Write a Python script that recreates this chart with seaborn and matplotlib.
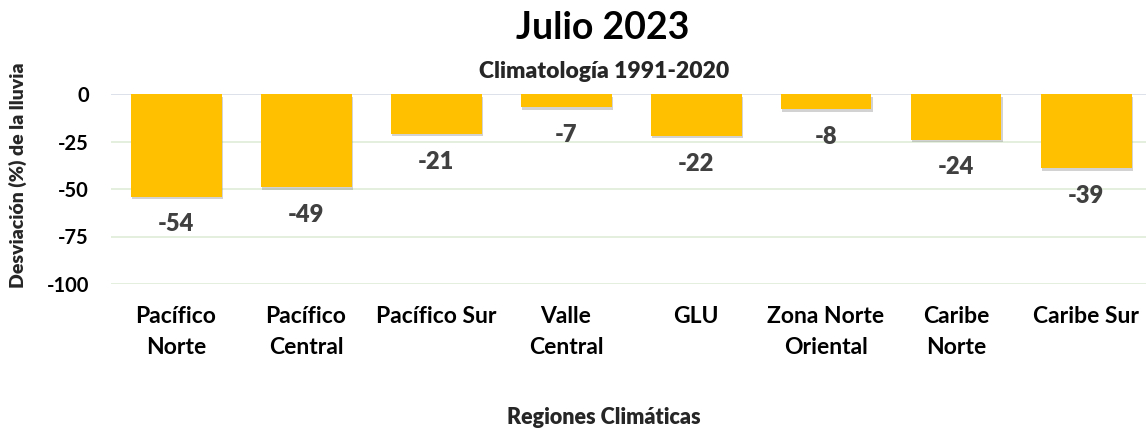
import matplotlib
matplotlib.use("Agg")
import matplotlib.pyplot as plt
import matplotlib.patheffects as pe
import seaborn as sns
import pandas as pd

regiones = ["Pacífico\nNorte", "Pacífico\nCentral", "Pacífico Sur", "Valle\nCentral",
            "GLU", "Zona Norte\nOriental", "Caribe\nNorte", "Caribe Sur"]
desviacion = [-54, -49, -21, -7, -22, -8, -24, -39]
yticks = [0, -25, -50, -75, -100]

sns.set_style("white")
plt.rcParams['font.family'] = ['Lato', 'DejaVu Sans']
plt.rcParams['font.weight'] = 'bold'

df = pd.DataFrame({"region": regiones, "valor": desviacion})

fig = plt.figure(figsize=(11.46, 4.30), dpi=100)
ax = fig.add_axes([111/1146, 1-284/430, 1040/1146, 190/430])

sns.barplot(data=df, x="region", y="valor", color="#FFC000", saturation=1,
            width=0.7, ax=ax, zorder=3)

for p in ax.patches:
    p.set_edgecolor("none")
    p.set_path_effects([pe.SimplePatchShadow(offset=(1.2, -1.8), shadow_rgbFace="#808080", alpha=0.35),
                        pe.Normal()])

for i, v in enumerate(desviacion):
    ax.annotate(f"{v}", xy=(i, v), xytext=(0, -20), textcoords="offset points",
                ha="center", va="center", fontsize=17, fontweight="heavy", color="#404040")

ax.set_ylim(-100, 0)
ax.set_xlim(-0.5, len(regiones) - 0.5)
ax.set_yticks(yticks)
ax.set_yticklabels([str(t) for t in yticks], fontsize=14.5, fontweight="bold", color="black")
ax.tick_params(axis="y", length=0, pad=16)
ax.tick_params(axis="x", length=0, pad=16)
for lab in ax.get_xticklabels():
    lab.set_fontsize(16.5)
    lab.set_fontweight("bold")
    lab.set_linespacing(1.55)
    lab.set_color("black")

for t in yticks:
    ax.axhline(t, color="#D9DEE8" if t == 0 else "#E2EFDA", lw=1.3, zorder=1)

for s in ax.spines.values():
    s.set_visible(False)
ax.grid(False)

ax.set_xlabel("")
ax.set_ylabel("")
fig.text(604/1146, 1-418/430, "Regiones Climáticas", ha="center", va="center",
         fontsize=15.5, fontweight="heavy", color="#262626")
fig.text(18/1146, 1-175/430, "Desviación (%) de la lluvia", ha="center", va="center",
         rotation=90, fontsize=14, fontweight="heavy", color="#262626")

fig.text(603/1146, 1-28/430, "Julio 2023", ha="center", va="center", fontsize=27,
         fontweight="bold", color="black")
fig.text(604/1146, 1-72/430, "Climatología 1991-2020", ha="center", va="center", fontsize=16.5, fontweight="heavy")

fig.savefig("out.png", dpi=100)
